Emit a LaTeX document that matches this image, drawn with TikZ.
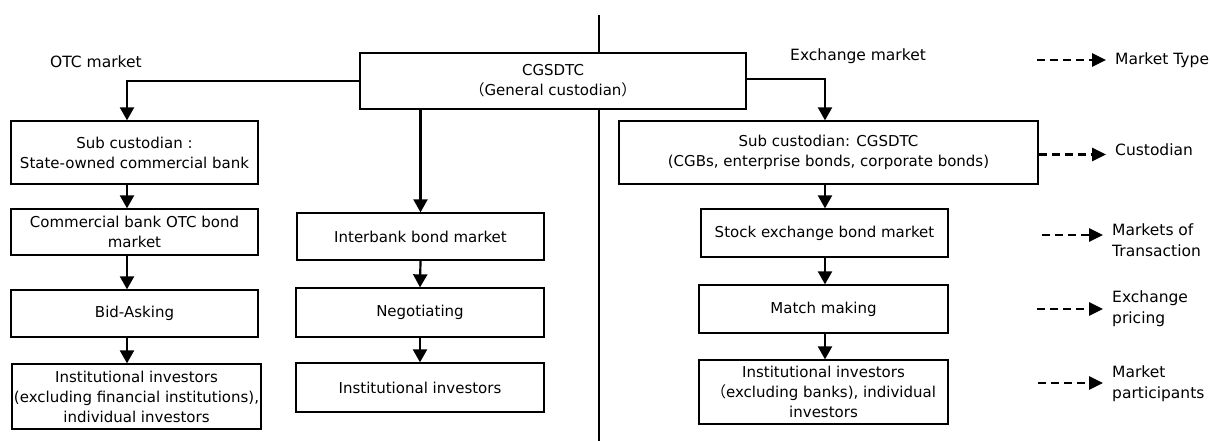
\documentclass[tikz,border=0pt]{standalone}
\usepackage{fontspec}
\setmainfont{DejaVu Sans}
\newfontfamily\cjk{Noto Sans CJK JP}
\usetikzlibrary{arrows.meta}

\tikzset{
  box/.style={draw, line width=1.3pt, align=center, inner sep=1pt, font=\fontsize{15}{20}\selectfont},
  arr/.style={line width=2.2pt, -{Triangle[length=13pt,width=14pt]}},
  legarr/.style={line width=2.8pt, dash pattern=on 8pt off 5pt, -{Triangle[length=14pt,width=13pt]}, shorten >=9pt},
  lbl/.style={anchor=west, align=left, inner sep=0pt, font=\fontsize{15.5}{21}\selectfont}
}

\begin{document}
\begin{tikzpicture}[x=1pt,y=-1pt]
\useasboundingbox (0,0) rectangle (1210,441);

% divider between OTC and exchange side
\coordinate (dtop) at (599,15);
\coordinate (dbot) at (599,441);
\draw[line width=1.8pt] (dtop) -- (dbot);

% general custodian
\node[box, minimum width=386pt, minimum height=56pt, fill=white] (gc) at (553,81) {CGSDTC\\{\cjk （}General custodian{\cjk ）}};

\node[lbl] (otc) at (50,62) {OTC market};
\node[lbl] (exch) at (790,56) {Exchange market};

% OTC: commercial bank column
\node[box, minimum width=247pt, minimum height=63pt] (subl) at (134.5,152.5) {Sub custodian :\\State-owned commercial bank};
\node[box, minimum width=247pt, minimum height=46pt] (cbm) at (134.5,232) {Commercial bank OTC bond\\market};
\node[box, minimum width=247pt, minimum height=47pt] (bid) at (134.5,313.5) {Bid-Asking};
\node[box, minimum width=249pt, minimum height=65pt] (invl) at (136.5,396.5) {Institutional investors\\(excluding financial institutions),\\individual investors};

% OTC: interbank column
\node[box, minimum width=247pt, minimum height=47pt] (ibm) at (420.5,236.5) {Interbank bond market};
\node[box, minimum width=248pt, minimum height=49pt] (neg) at (420,312.5) {Negotiating};
\node[box, minimum width=248pt, minimum height=49pt] (invm) at (420,387.5) {Institutional investors};

% exchange column
\node[box, minimum width=419pt, minimum height=63pt] (subr) at (828.5,152.5) {Sub custodian: CGSDTC\\(CGBs, enterprise bonds, corporate bonds)};
\node[box, minimum width=247pt, minimum height=48pt] (seb) at (824.5,233) {Stock exchange bond market};
\node[box, minimum width=249pt, minimum height=48pt] (mm) at (823.5,309) {Match making};
\node[box, minimum width=249pt, minimum height=64pt] (invr) at (823.5,392) {Institutional investors\\{\cjk （}excluding banks), individual\\investors};

\coordinate (lx) at (127,0);
\coordinate (rx) at (825,0);

\draw[arr] (gc.west) -| (subl.north -| lx);
\draw[arr] (subl.south -| lx) -- (cbm.north -| lx);
\draw[arr] (cbm.south -| lx) -- (bid.north -| lx);
\draw[arr] (bid.south -| lx) -- (invl.north -| lx);

\draw[arr] (gc.south -| ibm.north) -- (ibm.north);
\draw[arr] (ibm.south) -- (neg.north);
\draw[arr] (neg.south) -- (invm.north);

\draw[arr] ([yshift=2pt]gc.east) -| (subr.north -| rx);
\draw[arr] (subr.south -| rx) -- (seb.north -| rx);
\draw[arr] (seb.south -| rx) -- (mm.north -| rx);
\draw[arr] (mm.south -| rx) -- (invr.north -| rx);

% legend
\node[lbl] (ltype) at (1115,60) {Market Type};
\node[lbl] (lcus) at (1115,150) {Custodian};
\node[lbl] (lmkt) at (1112,240) {Markets of\\Transaction};
\node[lbl] (lprc) at (1112,309) {Exchange\\pricing};
\node[lbl] (lpar) at (1112,384) {Market\\participants};

\coordinate (s1) at (1037,60);
\coordinate (s3) at (1042,235);
\coordinate (s4) at (1037,309);
\coordinate (s5) at (1038,383);

\draw[legarr] (s1) -- (ltype.west);
\draw[legarr] ([yshift=-2pt]subr.east) -- ([yshift=-2pt]subr.east -| lcus.west);
\draw[legarr] (s3) -- (s3 -| lmkt.west);
\draw[legarr] (s4) -- (s4 -| lprc.west);
\draw[legarr] (s5) -- (s5 -| lpar.west);

\end{tikzpicture}
\end{document}
